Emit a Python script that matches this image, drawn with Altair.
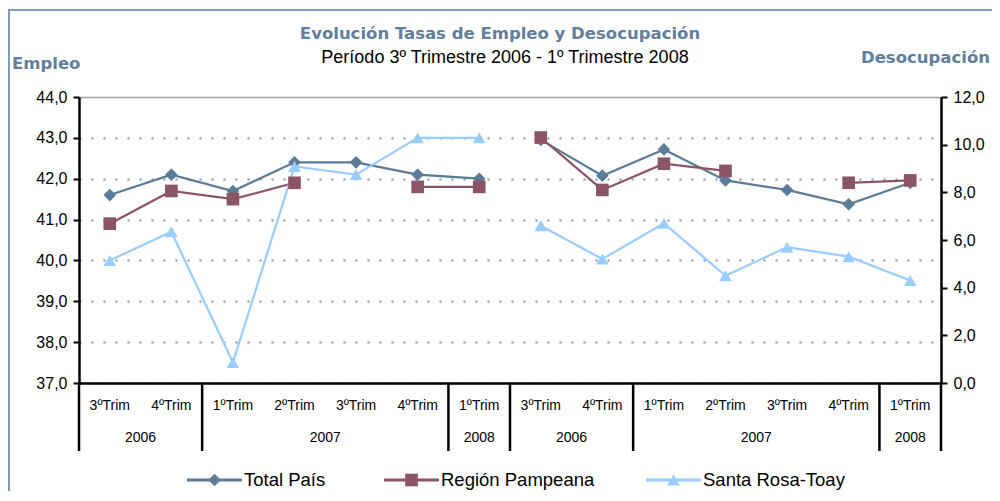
import altair as alt
import pandas as pd

# ---------------- data ----------------
quarters = ["3ºTrim", "4ºTrim", "1ºTrim", "2ºTrim", "3ºTrim", "4ºTrim", "1ºTrim"]
years = ["2006", "2006", "2007", "2007", "2007", "2007", "2008"]
series_names = ["Total País", "Región Pampeana", "Santa Rosa-Toay"]

empleo_total = [41.6, 42.1, 41.7, 42.4, 42.4, 42.1, 42.0]
empleo_pampeana = [40.9, 41.7, 41.5, 41.9, None, 41.8, 41.8]
empleo_santa_rosa = [40.0, 40.7, 37.5, 42.3, 42.1, 43.0, 43.0]

desocupacion_total = [10.2, 8.7, 9.8, 8.5, 8.1, 7.5, 8.4]
desocupacion_pampeana = [10.3, 8.1, 9.2, 8.9, None, 8.4, 8.5]
desocupacion_santa_rosa = [6.6, 5.2, 6.7, 4.5, 5.7, 5.3, 4.3]

empleo_ticks = [37, 38, 39, 40, 41, 42, 43, 44]
desocupacion_ticks = [0, 2, 4, 6, 8, 10, 12]

title_text = "Evolución Tasas de Empleo y Desocupación"
subtitle_text = "Período 3º Trimestre 2006  -  1º Trimestre 2008"
left_title = "Empleo"
right_title = "Desocupación"

# ---------------- styles ----------------
FONT = "Liberation Sans"
TITLE_COLOR = "#617f9b"
series_colors = ["#5b7b96", "#8b5566", "#99ccff"]
series_shapes = ["diamond", "square", "triangle-up"]
GRID_COLOR = "#8093a8"
FRAME_COLOR = "#7f9bb8"
W, H = 862, 286

# ---------------- tables ----------------
n = len(quarters)
rows = []
for side, offset, arrays in (
    ("Empleo", 0, [empleo_total, empleo_pampeana, empleo_santa_rosa]),
    ("Desocupación", n, [desocupacion_total, desocupacion_pampeana, desocupacion_santa_rosa]),
):
    for k, (s, vals) in enumerate(zip(series_names, arrays)):
        for i, v in enumerate(vals):
            rows.append({"idx": offset + i, "series": s, "k": k,
                         "value": float("nan") if v is None else v, "side": side})
df = pd.DataFrame(rows)

cat_df = pd.DataFrame({
    "idx": list(range(2 * n)),
    "quarter": quarters * 2,
    "year": years * 2,
    "panel": [0] * n + [1] * n,
})
cat_df["grp"] = ((cat_df["year"] != cat_df["year"].shift()) |
                 (cat_df["panel"] != cat_df["panel"].shift())).cumsum()
groups = cat_df.groupby("grp").agg(year=("year", "first"), start=("idx", "min"),
                                   end=("idx", "max")).reset_index()
groups["center"] = (groups["start"] + groups["end"]) / 2
bounds = sorted(set((groups["start"] - 0.5).tolist() + (groups["end"] + 0.5).tolist()))
bound_df = pd.DataFrame({"b": bounds})

xscale = alt.Scale(domain=[-0.5, 2 * n - 0.5], nice=False, zero=False)
XAXIS = alt.Axis(labels=False, ticks=False, grid=False, title=None,
                 domainColor="black", domainWidth=2.5)
color_enc = alt.Color("series:N", scale=alt.Scale(domain=series_names, range=series_colors),
                      legend=None)
shape_enc = alt.Shape("series:N", scale=alt.Scale(domain=series_names, range=series_shapes),
                      legend=None)
label_expr = "replace(format(datum.value, '.1f'), '.', ',')"


def panel(side, domain, ticks, orient, grid):
    d = df[df["side"] == side]
    axis_kw = dict(orient=orient, values=ticks, labelExpr=label_expr, title=None,
                   domainColor="black", domainWidth=2.5, tickColor="black", tickWidth=2,
                   tickSize=6, labelFont=FONT, labelFontSize=16, labelColor="black",
                   labelPadding=6, grid=grid)
    if grid:
        axis_kw.update(
            gridColor={"condition": {"test": "datum.value >= 44", "value": "#a0a0a0"},
                       "value": GRID_COLOR},
            gridDash={"condition": {"test": "datum.value >= 44", "value": []},
                      "value": [2, 10]},
            gridWidth={"condition": {"test": "datum.value >= 44", "value": 1.5},
                       "value": 2},
        )
    y = alt.Y("value:Q", scale=alt.Scale(domain=domain, nice=False, zero=False),
              axis=alt.Axis(**axis_kw))
    base = alt.Chart(d).encode(x=alt.X("idx:Q", scale=xscale, axis=XAXIS), y=y, color=color_enc)
    lines = base.mark_line(strokeWidth=2.2, invalid="break-paths-show-domains").encode(
        detail="series:N", order="idx:Q")
    points = base.mark_point(filled=True, opacity=1, size=160).encode(shape=shape_enc)
    return alt.layer(lines, points)


left_panel = panel("Empleo", [37, 44], empleo_ticks, "left", True)
right_panel = panel("Desocupación", [0, 12], desocupacion_ticks, "right", False)

quarter_text = alt.Chart(cat_df).mark_text(font=FONT, fontSize=14, color="black",
                                           baseline="middle").encode(
    x=alt.X("idx:Q", scale=xscale, axis=XAXIS), y=alt.value(H + 23), text="quarter:N")
year_text = alt.Chart(groups).mark_text(font=FONT, fontSize=14, color="black",
                                        baseline="middle").encode(
    x=alt.X("center:Q", scale=xscale, axis=XAXIS), y=alt.value(H + 55), text="year:N")
separators = alt.Chart(bound_df).mark_rule(color="black", strokeWidth=2.5).encode(
    x=alt.X("b:Q", scale=xscale, axis=XAXIS), y=alt.value(H), y2=alt.value(H + 68))


def one_text(txt, x, y, **kw):
    return alt.Chart(pd.DataFrame({"t": [txt]})).mark_text(**kw).encode(
        x=alt.value(x), y=alt.value(y), text="t:N")


title_layer = one_text(title_text, 421, -63, font="DejaVu Sans", fontSize=16.5,
                       fontWeight="bold", color=TITLE_COLOR, align="center", baseline="middle")
subtitle_layer = one_text(subtitle_text, 426, -39, font=FONT, fontSize=18, color="black",
                          align="center", baseline="middle")
left_title_layer = one_text(left_title, -67, -33, font="DejaVu Sans", fontSize=16.5,
                            fontWeight="bold", color=TITLE_COLOR, align="left",
                            baseline="middle")
right_title_layer = one_text(right_title, 911, -39, font="DejaVu Sans", fontSize=16.5,
                             fontWeight="bold", color=TITLE_COLOR, align="right",
                             baseline="middle")

frame = alt.Chart(pd.DataFrame({"t": [0]})).mark_rect(
    fillOpacity=0, stroke=FRAME_COLOR, strokeWidth=2).encode(
    x=alt.value(-70), x2=alt.value(W + 300), y=alt.value(-87), y2=alt.value(H + 300))

# manual legend (line + marker + label)
legend_line_start = [108, 305, 567]
legend_line_len = 55
legend_y = H + 97
legend_layers = []
for k, name in enumerate(series_names):
    one = pd.DataFrame({"series": [name]})
    x0 = legend_line_start[k]
    legend_layers.append(alt.Chart(one).mark_rule(strokeWidth=3, color=series_colors[k]).encode(
        x=alt.value(x0), x2=alt.value(x0 + legend_line_len), y=alt.value(legend_y)))
    legend_layers.append(alt.Chart(one).mark_point(
        filled=True, opacity=1, size=160, shape=series_shapes[k], color=series_colors[k]).encode(
        x=alt.value(x0 + legend_line_len / 2), y=alt.value(legend_y)))
    legend_layers.append(alt.Chart(one).mark_text(
        font=FONT, fontSize=18.5, color="black", align="left", baseline="middle").encode(
        x=alt.value(x0 + legend_line_len + 2), y=alt.value(legend_y), text="series:N"))

chart = alt.layer(
    frame, left_panel, right_panel, separators, quarter_text, year_text,
    title_layer, subtitle_layer, left_title_layer, right_title_layer, *legend_layers,
).resolve_scale(y="independent").properties(
    width=W, height=H,
    autosize=alt.AutoSizeParams(type="none"),
    padding={"left": 71, "top": 89, "right": 51, "bottom": 108},
).configure_view(stroke=None)

chart.save("out.html", embed_options={"renderer": "svg", "actions": False})
